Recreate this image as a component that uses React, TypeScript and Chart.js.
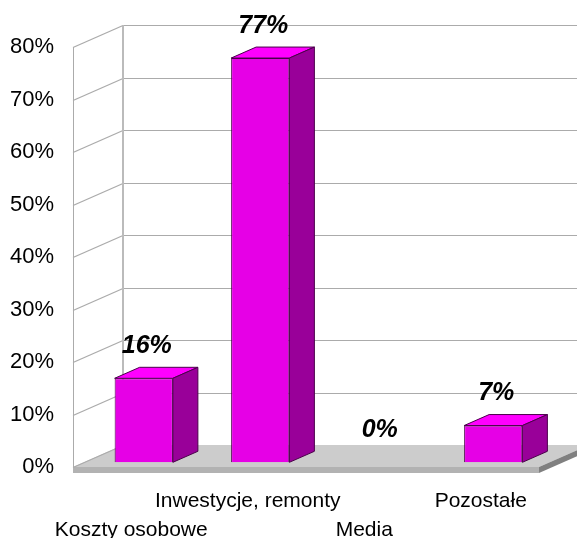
import React, { useEffect, useRef } from "react";
import { Chart, registerables } from "chart.js";

Chart.register(...registerables);

const categories = ["Koszty osobowe", "Inwestycje, remonty", "Media", "Pozostałe"];
const shares = [16, 77, 0, 7];
const axisMax = 80;
const axisStep = 10;

const FONT = '"Liberation Sans", Arial, sans-serif';
const WALL_DX = 50;
const WALL_DY = -22;
const BAR_DX = 25;
const BAR_DY = -11;
const PLANE_DX = 12.5;
const PLANE_DY = -4.7;
const SLAB = 6;

const GRID = "#ABABAB";
const FRONT = "#E600E6";
const TOP = "#FF00FF";
const SIDE = "#990099";
const EDGE = "#4A004A";

function poly(ctx: CanvasRenderingContext2D, pts: number[][], fill: string, stroke?: string) {
  ctx.beginPath();
  pts.forEach((p, i) => (i ? ctx.lineTo(p[0], p[1]) : ctx.moveTo(p[0], p[1])));
  ctx.closePath();
  ctx.fillStyle = fill;
  ctx.fill();
  if (stroke) {
    ctx.strokeStyle = stroke;
    ctx.lineWidth = 1;
    ctx.stroke();
  }
}

const box3d = {
  id: "box3d",
  beforeDatasetsDraw(chart: any) {
    const { ctx, chartArea: a, scales } = chart;
    const y0 = scales.y.getPixelForValue(0);
    const yTop = scales.y.getPixelForValue(axisMax);
    ctx.save();
    // floor
    poly(ctx, [[a.left, y0], [a.left + WALL_DX, y0 + WALL_DY], [a.right + WALL_DX, y0 + WALL_DY], [a.right, y0]], "#CCCCCC");
    poly(ctx, [[a.left, y0], [a.right, y0], [a.right, y0 + SLAB], [a.left, y0 + SLAB]], "#B2B2B2");
    poly(ctx, [[a.right, y0], [a.right + WALL_DX, y0 + WALL_DY], [a.right + WALL_DX, y0 + WALL_DY + SLAB], [a.right, y0 + SLAB]], "#808080");
    // grid
    ctx.strokeStyle = GRID;
    for (const t of scales.y.ticks) {
      const y = Math.round(scales.y.getPixelForValue(t.value)) + 0.5;
      ctx.lineWidth = 1.3;
      ctx.beginPath();
      ctx.moveTo(a.left, y);
      ctx.lineTo(a.left + WALL_DX, y + WALL_DY);
      ctx.stroke();
      if (t.value !== 0) {
        ctx.lineWidth = 1;
        ctx.beginPath();
        ctx.moveTo(a.left + WALL_DX, y + WALL_DY);
        ctx.lineTo(a.right + WALL_DX, y + WALL_DY);
        ctx.stroke();
      }
    }
    // left wall edges
    ctx.lineWidth = 1;
    ctx.beginPath();
    ctx.moveTo(a.left + 0.5, yTop);
    ctx.lineTo(a.left + 0.5, y0);
    ctx.stroke();
    ctx.lineWidth = 2;
    ctx.strokeStyle = "#BBBBBB";
    ctx.beginPath();
    ctx.moveTo(a.left + WALL_DX, yTop + WALL_DY);
    ctx.lineTo(a.left + WALL_DX, y0 + WALL_DY);
    ctx.stroke();
    ctx.restore();
  },
  beforeDatasetDraw(chart: any) {
    chart.ctx.save();
    chart.ctx.translate(PLANE_DX, PLANE_DY);
  },
  afterDatasetDraw(chart: any, args: any) {
    const { ctx } = chart;
    const meta = chart.getDatasetMeta(args.index);
    meta.data.forEach((bar: any, i: number) => {
      if (!shares[i]) return;
      const l = bar.x - bar.width / 2;
      const r = bar.x + bar.width / 2;
      const t = bar.y;
      const b = bar.base;
      poly(ctx, [[l, t], [l + BAR_DX, t + BAR_DY], [r + BAR_DX, t + BAR_DY], [r, t]], TOP, EDGE);
      poly(ctx, [[r, t], [r + BAR_DX, t + BAR_DY], [r + BAR_DX, b + BAR_DY], [r, b]], SIDE, EDGE);
    });
    ctx.restore();
  },
  afterDatasetsDraw(chart: any) {
    const { ctx } = chart;
    const meta = chart.getDatasetMeta(0);
    ctx.save();
    ctx.font = `italic bold 25px ${FONT}`;
    ctx.fillStyle = "#000000";
    ctx.textAlign = "center";
    ctx.textBaseline = "middle";
    meta.data.forEach((bar: any, i: number) => {
      ctx.fillText(`${shares[i]}%`, bar.x + PLANE_DX + 3, bar.y + PLANE_DY - 32);
    });
    ctx.restore();
  },
};

export default function App() {
  const ref = useRef<HTMLCanvasElement>(null);
  useEffect(() => {
    const chart = new Chart(ref.current!, {
      type: "bar",
      data: {
        labels: categories,
        datasets: [
          {
            data: shares,
            backgroundColor: FRONT,
            borderColor: EDGE,
            borderWidth: (c: any) => (c.raw === 0 ? 0 : 1),
            barPercentage: 1,
            categoryPercentage: 0.5,
            clip: false,
          } as any,
        ],
      },
      options: {
        responsive: false,
        animation: false,
        layout: { padding: { top: 47, right: 38, left: 0, bottom: 0 } },
        plugins: { legend: { display: false }, tooltip: { enabled: false } },
        scales: {
          x: {
            afterFit(s: any) {
              s.height = 71;
            },
            grid: { display: false, drawTicks: false },
            border: { display: false },
            ticks: {
              autoSkip: false,
              maxRotation: 0,
              minRotation: 0,
              padding: 20,
              color: "#000000",
              font: { family: FONT, size: 21, lineHeight: 1.38 },
              callback(_v: any, i: number) {
                return i % 2 === 0 ? ["", categories[i]] : [categories[i], ""];
              },
            },
          },
          y: {
            min: 0,
            max: axisMax,
            afterFit(s: any) {
              s.width = 73;
            },
            grid: { display: false, drawTicks: false },
            border: { display: false },
            ticks: {
              stepSize: axisStep,
              padding: 19,
              color: "#000000",
              font: { family: FONT, size: 22 },
              callback: (v: any) => `${v}%`,
            },
          },
        },
      },
      plugins: [box3d as any],
    });
    return () => chart.destroy();
  }, []);
  return (
    <canvas
      ref={ref}
      width={577}
      height={538}
      style={{ position: "absolute", left: 0, top: 0, display: "block", width: 577, height: 538 }}
    />
  );
}
